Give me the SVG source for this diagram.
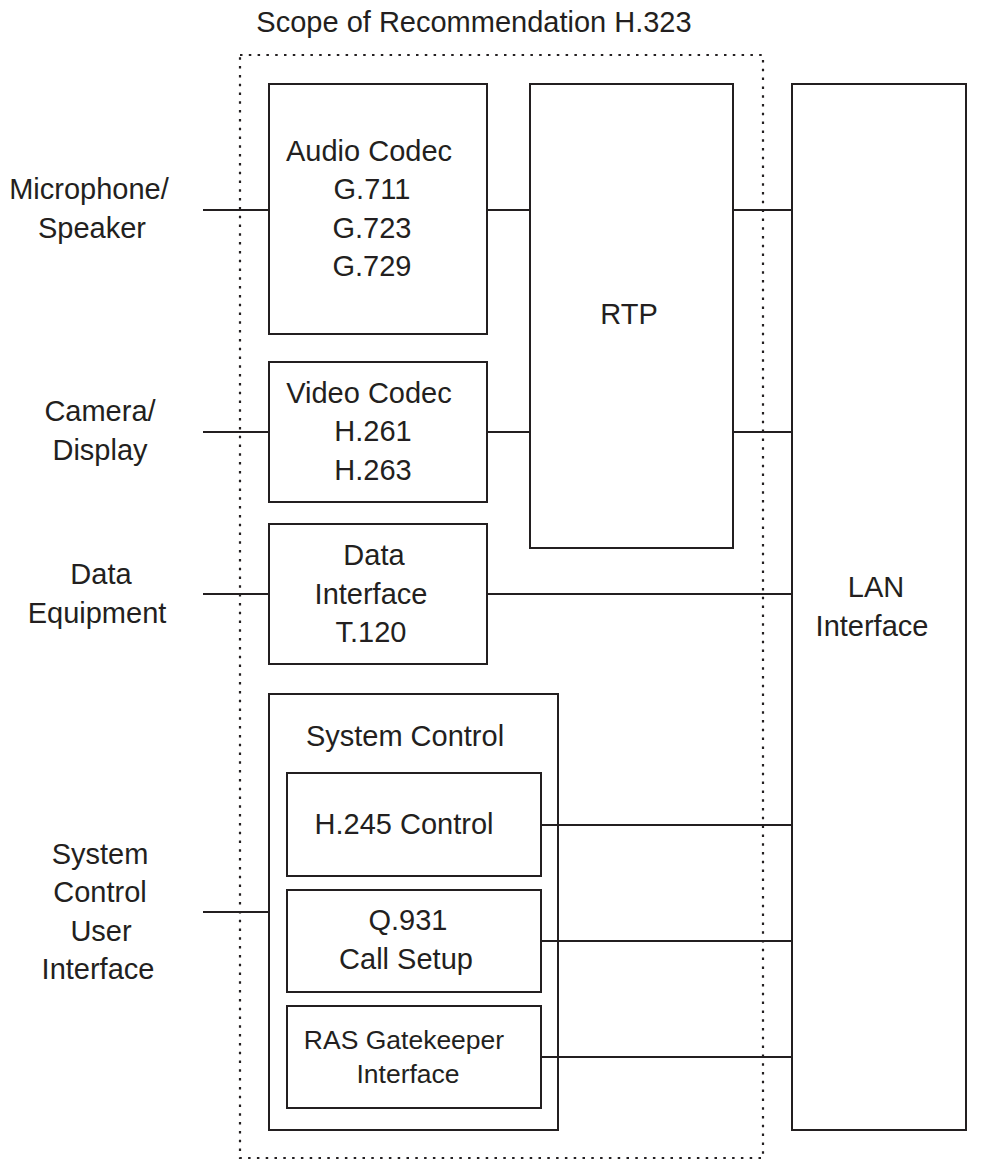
<svg xmlns="http://www.w3.org/2000/svg" width="987" height="1172" viewBox="0 0 987 1172">
<style>
.b{fill:none;stroke:#231f20;stroke-width:2}
.l{stroke:#231f20;stroke-width:2;fill:none}
text{font-family:"Liberation Sans",Arial,sans-serif;font-size:29px;fill:#231f20;text-anchor:middle}
.s{font-size:26.5px}
</style>
<rect width="987" height="1172" fill="#fff"/>
<g id="scope">
<rect x="240" y="55" width="523" height="1103" fill="none" stroke="#231f20" stroke-width="2.2" stroke-dasharray="2.5 6.3"/>
<text x="474" y="32">Scope of Recommendation H.323</text>
</g>
<g id="connectors">
<path class="l" d="M203 210H269M487 210H530M733 210H792M203 432H269M487 432H530M733 432H792M203 594H269M487 594H792M541 825H792M541 941H792M541 1057H792M203 912H269"/>
</g>
<g id="audio"><rect class="b" x="269" y="84" width="218" height="250"/>
<text x="369" y="161">Audio Codec</text><text x="372" y="199">G.711</text><text x="372" y="238">G.723</text><text x="372" y="276">G.729</text></g>
<g id="rtp"><rect class="b" x="530" y="84" width="203" height="464"/><text x="629" y="324">RTP</text></g>
<g id="lan"><rect class="b" x="792" y="84" width="174" height="1046"/><text x="876" y="597">LAN</text><text x="872" y="636">Interface</text></g>
<g id="video"><rect class="b" x="269" y="362" width="218" height="140"/>
<text x="369" y="403">Video Codec</text><text x="373" y="441">H.261</text><text x="373" y="480">H.263</text></g>
<g id="data"><rect class="b" x="269" y="524" width="218" height="140"/>
<text x="374" y="565">Data</text><text x="371" y="604">Interface</text><text x="371" y="642">T.120</text></g>
<g id="sysctl"><rect class="b" x="269" y="694" width="289" height="436"/><text x="405" y="746">System Control</text></g>
<g id="h245"><rect class="b" x="287" y="773" width="254" height="103"/><text x="404" y="834">H.245 Control</text></g>
<g id="q931"><rect class="b" x="287" y="890" width="254" height="102"/><text x="408" y="930">Q.931</text><text x="406" y="969">Call Setup</text></g>
<g id="ras"><rect class="b" x="287" y="1006" width="254" height="102"/><text class="s" x="404" y="1049">RAS Gatekeeper</text><text class="s" x="408" y="1083">Interface</text></g>
<g id="mic"><text x="89" y="199">Microphone/</text><text x="92" y="238">Speaker</text></g>
<g id="camera"><text x="100" y="421">Camera/</text><text x="100" y="460">Display</text></g>
<g id="dataeq"><text x="101" y="584">Data</text><text x="97" y="623">Equipment</text></g>
<g id="ui"><text x="100" y="864">System</text><text x="100" y="902">Control</text><text x="101" y="941">User</text><text x="98" y="979">Interface</text></g>
</svg>
